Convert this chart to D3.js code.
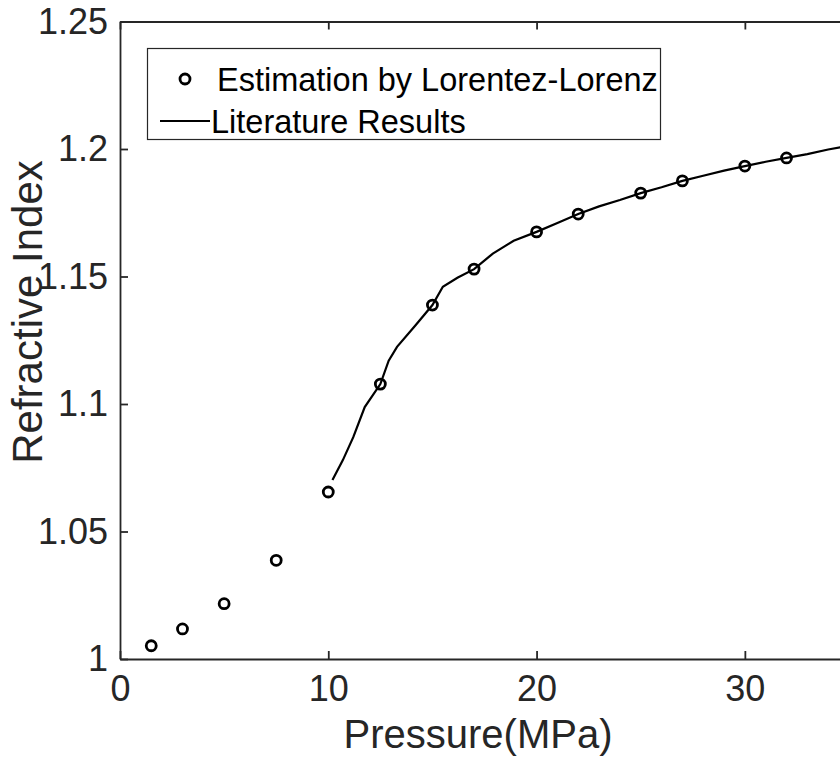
<!DOCTYPE html>
<html>
<head>
<meta charset="utf-8">
<script src="https://cdn.jsdelivr.net/npm/d3@7"></script>
<style>
  html, body { margin: 0; padding: 0; background: #fff; overflow: hidden; }
  svg { display: block; font-family: "Liberation Sans", Arial, sans-serif; }
</style>
</head>
<body>
<script>
// Refractive index estimated with the Lorentz-Lorenz relation
const estPressure = [1.5, 3, 5, 7.5, 10, 12.5, 15, 17, 20, 22, 25, 27, 30, 32];
const estIndex = [1.0052, 1.0118, 1.0217, 1.0387, 1.0655, 1.1078, 1.1388, 1.1529,
                  1.1675, 1.1745, 1.1827, 1.1875, 1.1933, 1.1965];

// Reference values from the literature
const litPressure = [10.2, 10.7, 11.2, 11.75, 12.5, 12.9, 13.3, 14.2, 15, 15.5, 16.2, 17,
                     17.9, 18.9, 20, 21, 22, 23, 24, 25, 26, 27, 28, 29, 30, 31, 32, 33, 34, 35];
const litIndex = [1.0702, 1.078, 1.087, 1.0988, 1.1078, 1.117, 1.1224, 1.131, 1.1388, 1.146,
                  1.1495, 1.1529, 1.159, 1.164, 1.1675, 1.171, 1.1745, 1.1775, 1.18, 1.1827,
                  1.185, 1.1875, 1.1895, 1.1915, 1.1933, 1.195, 1.1965, 1.198, 1.1998, 1.2012];

const xTicks = [0, 10, 20, 30];
const yTicks = [1, 1.05, 1.1, 1.15, 1.2, 1.25];
const legendLabels = ["Estimation by Lorentez-Lorenz", "Literature Results"];

const W = 840, H = 760;
const mLeft = 120, mTop = 21.5, mRight = 849, mBottom = 659;
const axisColor = "#262626";

const svg = d3.select("body").append("svg").attr("width", W).attr("height", H);

const x = d3.scaleLinear().domain([0, 35]).range([mLeft, mRight]);
const y = d3.scaleLinear().domain([1, 1.25]).range([mBottom, mTop]);

svg.append("defs").append("clipPath").attr("id", "plot")
  .append("rect").attr("x", mLeft).attr("y", mTop).attr("width", mRight - mLeft).attr("height", mBottom - mTop);

// Axes with inward ticks (bottom/left labelled, top mirrored)
const tickLen = 8;
const gx = svg.append("g").attr("transform", `translate(0,${mBottom})`)
  .call(d3.axisBottom(x).tickValues(xTicks).tickFormat(d3.format("d"))
        .tickSizeInner(-tickLen).tickSizeOuter(0).tickPadding(16));
const gy = svg.append("g").attr("transform", `translate(${mLeft},0)`)
  .call(d3.axisLeft(y).tickValues(yTicks).tickFormat(d => String(+d.toFixed(2)))
        .tickSizeInner(-tickLen).tickSizeOuter(0).tickPadding(12));
const gt = svg.append("g").attr("transform", `translate(0,${mTop})`)
  .call(d3.axisTop(x).tickValues(xTicks).tickFormat("").tickSizeInner(-tickLen).tickSizeOuter(0));

[gx, gy, gt].forEach(g => {
  g.select(".domain").attr("stroke", axisColor).attr("stroke-width", 1.8);
  g.selectAll(".tick line").attr("stroke", axisColor).attr("stroke-width", 1.8);
  g.selectAll(".tick text").attr("fill", axisColor).style("font-size", "36px");
});
gx.selectAll(".tick text").attr("dy", "0.71em");

// Axis titles
svg.append("text")
  .attr("x", 478).attr("y", 748)
  .attr("text-anchor", "middle").attr("fill", axisColor)
  .style("font-size", "40px").text("Pressure(MPa)");
svg.append("text")
  .attr("transform", `translate(42,312) rotate(-90)`)
  .attr("text-anchor", "middle").attr("fill", axisColor)
  .style("font-size", "42px").text("Refractive Index");

const plot = svg.append("g").attr("clip-path", "url(#plot)");

// Literature curve
const litData = litPressure.map((p, i) => [p, litIndex[i]]);
plot.append("path").datum(litData)
  .attr("fill", "none").attr("stroke", "#000").attr("stroke-width", 2.2)
  .attr("d", d3.line().x(d => x(d[0])).y(d => y(d[1])));

// Estimated points
plot.selectAll("circle.est").data(estPressure.map((p, i) => [p, estIndex[i]]))
  .join("circle").attr("class", "est")
  .attr("cx", d => x(d[0])).attr("cy", d => y(d[1])).attr("r", 5)
  .attr("fill", "none").attr("stroke", "#000").attr("stroke-width", 2.8);

// Legend
const lg = svg.append("g");
lg.append("rect").attr("x", 147.5).attr("y", 48.5).attr("width", 513).attr("height", 91)
  .attr("fill", "#fff").attr("stroke", axisColor).attr("stroke-width", 1.2);
lg.append("circle").attr("cx", 185).attr("cy", 79).attr("r", 5)
  .attr("fill", "none").attr("stroke", "#000").attr("stroke-width", 2.8);
lg.append("line").attr("x1", 160).attr("x2", 210).attr("y1", 121).attr("y2", 121)
  .attr("stroke", "#000").attr("stroke-width", 2);
lg.selectAll("text").data(legendLabels).join("text")
  .attr("x", (d, i) => i === 0 ? 217 : 211)
  .attr("y", (d, i) => i === 0 ? 91 : 133)
  .attr("fill", "#000").style("font-size", "32.5px").text(d => d);
</script>
</body>
</html>
